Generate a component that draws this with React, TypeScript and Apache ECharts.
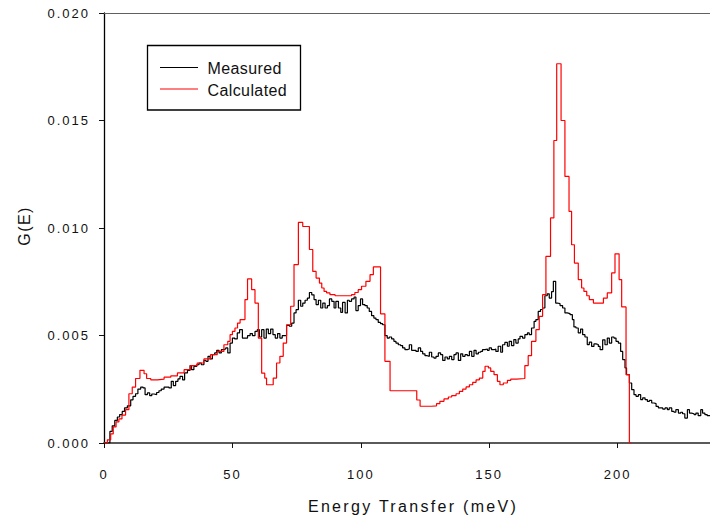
import React, { useEffect, useRef } from "react";
import * as echarts from "echarts";

// Energy transfer (meV) bin starts and G(E) values
const measured: [number, number][] = [
  [0, 0], [2.3, 0.00054], [3.2, 0.0008], [4.2, 0.00105], [5.2, 0.00121], [6.1, 0.00132],
  [7.1, 0.00147], [8.0, 0.00163], [9.1, 0.00173], [10.4, 0.00201], [11.3, 0.00217],
  [12.3, 0.00229], [13.2, 0.00251], [14.3, 0.0026], [15.2, 0.00256], [16.0, 0.00225],
  [16.9, 0.00233], [17.8, 0.0022], [18.6, 0.00228], [19.5, 0.00225], [20.5, 0.00235],
  [21.4, 0.00243], [22.3, 0.00251], [23.4, 0.0026], [24.3, 0.0026], [25.3, 0.00256],
  [26.2, 0.00287], [27.0, 0.00267], [27.9, 0.00287], [28.8, 0.00298], [29.6, 0.0031],
  [30.6, 0.00294], [31.4, 0.00326], [32.5, 0.00338], [33.5, 0.0036], [34.1, 0.00341],
  [35.0, 0.00356], [36.1, 0.00364], [37.0, 0.00372], [37.9, 0.00364], [38.9, 0.00384],
  [39.7, 0.0038], [40.5, 0.00403], [41.3, 0.00391], [42.2, 0.00411], [43.1, 0.00419],
  [43.9, 0.00431], [44.8, 0.00419], [45.7, 0.00434], [46.5, 0.00437], [47.4, 0.00442],
  [48.2, 0.00419], [49.1, 0.00465], [50.0, 0.00488], [50.9, 0.00484], [51.9, 0.00512],
  [52.8, 0.00527], [53.9, 0.00488], [54.9, 0.00488], [55.9, 0.00499], [56.9, 0.00509],
  [57.8, 0.00499], [58.8, 0.00519], [59.7, 0.00527], [60.5, 0.00493], [61.4, 0.00527],
  [62.3, 0.00488], [63.2, 0.0053], [64.0, 0.00509], [64.9, 0.0053], [65.8, 0.00504],
  [66.7, 0.00488], [67.6, 0.00509], [68.5, 0.00488], [69.4, 0.00499], [71.1, 0.00547],
  [72.2, 0.00543], [73.1, 0.00558], [74.0, 0.00605], [74.8, 0.0062], [75.7, 0.00664],
  [76.6, 0.00636], [77.4, 0.00651], [78.3, 0.00664], [79.2, 0.00674], [80.0, 0.007],
  [80.9, 0.00689], [81.8, 0.00667], [82.6, 0.00644], [83.5, 0.00664], [84.4, 0.00628],
  [85.2, 0.00651], [86.1, 0.00628], [87.0, 0.00639], [87.8, 0.0067], [88.7, 0.00659],
  [89.6, 0.00628], [90.3, 0.00659], [91.3, 0.00628], [92.2, 0.00608], [92.9, 0.00654],
  [93.9, 0.00605], [94.8, 0.00664], [95.5, 0.00659], [96.4, 0.0067], [97.4, 0.00679],
  [98.1, 0.00616], [99.0, 0.00639], [99.9, 0.0067], [100.7, 0.00644], [101.6, 0.00639],
  [102.5, 0.00628], [103.3, 0.00612], [104.2, 0.00592], [105.1, 0.00581], [105.9, 0.00574],
  [106.8, 0.00561], [107.7, 0.00555], [108.5, 0.0055], [109.4, 0.00499], [110.3, 0.00488],
  [111.1, 0.00493], [112.0, 0.00484], [112.9, 0.00473], [113.7, 0.00465], [114.6, 0.00457],
  [115.5, 0.00453], [116.3, 0.00442], [117.2, 0.00434], [118.1, 0.00437], [118.9, 0.00457],
  [119.8, 0.00431], [120.7, 0.00431], [121.5, 0.00426], [122.4, 0.00442], [123.3, 0.00426],
  [124.1, 0.00415], [125.0, 0.00406], [125.9, 0.00403], [126.7, 0.00422], [127.6, 0.004],
  [128.5, 0.00395], [129.3, 0.00403], [130.2, 0.00419], [131.1, 0.00411], [131.9, 0.00384],
  [132.8, 0.004], [133.7, 0.00391], [134.5, 0.00403], [135.4, 0.00388], [136.3, 0.00411],
  [137.1, 0.00419], [138.0, 0.00384], [138.9, 0.00415], [139.7, 0.00403], [140.6, 0.00411],
  [141.5, 0.00406], [142.3, 0.00426], [143.2, 0.00403], [144.1, 0.00431], [144.9, 0.00415],
  [145.8, 0.00422], [146.7, 0.00426], [147.4, 0.00434], [148.4, 0.00437], [149.3, 0.00431],
  [150.0, 0.00442], [150.9, 0.00434], [151.9, 0.00437], [152.6, 0.00426], [153.5, 0.0045],
  [154.5, 0.00422], [155.2, 0.00457], [156.1, 0.00468], [157.1, 0.0045], [157.8, 0.00473],
  [158.7, 0.00453], [159.6, 0.00481], [160.4, 0.00465], [161.3, 0.00484], [162.0, 0.00496],
  [163.0, 0.00488], [163.9, 0.00504], [164.9, 0.00512], [165.6, 0.00504], [166.5, 0.00535],
  [167.5, 0.00566], [168.2, 0.00574], [169.1, 0.00612], [170.0, 0.00621], [170.8, 0.00628],
  [171.7, 0.00685], [172.6, 0.00694], [173.4, 0.00674], [174.3, 0.00704], [175.0, 0.00752],
  [175.9, 0.00651], [176.5, 0.00648], [177.6, 0.00639], [178.6, 0.00628], [179.5, 0.00605],
  [180.4, 0.00602], [181.5, 0.00597], [182.4, 0.00574], [183.0, 0.0054], [183.8, 0.00535],
  [184.7, 0.00512], [185.6, 0.0053], [186.4, 0.00504], [187.3, 0.00493], [188.2, 0.00458],
  [189.0, 0.00469], [189.9, 0.00449], [190.8, 0.00461], [191.6, 0.00458], [192.5, 0.00449],
  [193.2, 0.00434], [194.2, 0.0048], [195.1, 0.00457], [196.0, 0.00488], [196.8, 0.00465],
  [197.7, 0.00493], [198.6, 0.00488], [199.4, 0.00473], [200.3, 0.00465], [201.2, 0.00426],
  [202.0, 0.00388], [202.9, 0.00349], [203.5, 0.00318], [204.6, 0.00279], [205.5, 0.00248],
  [206.4, 0.00225], [207.2, 0.00217], [208.1, 0.00225], [209.0, 0.00202], [209.8, 0.0021],
  [210.7, 0.00202], [211.6, 0.00194], [212.4, 0.00198], [213.3, 0.00186], [214.2, 0.00183],
  [215.0, 0.0017], [215.9, 0.00163], [216.8, 0.00163], [217.6, 0.00158], [218.5, 0.00163],
  [219.4, 0.00155], [220.1, 0.00163], [221.1, 0.00147], [222.0, 0.00143], [222.7, 0.00155],
  [223.7, 0.00139], [224.6, 0.00143], [225.3, 0.00136], [226.2, 0.00116], [227.2, 0.00155],
  [228.0, 0.00139], [228.8, 0.00136], [229.8, 0.00132], [230.5, 0.00139], [231.4, 0.00127],
  [232.4, 0.00155], [233.1, 0.00139], [234.0, 0.00132], [234.9, 0.00127], [236, 0.00127],
];

const calculated: [number, number][] = [
  [0, 0], [1.3, 0.00015], [2.6, 0.00042], [3.6, 0.00075], [4.7, 0.00098], [5.8, 0.00112],
  [7.0, 0.0013], [8.4, 0.00155], [9.7, 0.00229], [11.0, 0.0026], [12.3, 0.003],
  [14.0, 0.00338], [15.6, 0.00322], [16.6, 0.003], [18.2, 0.00294], [20.8, 0.00297],
  [23.4, 0.00306], [26.0, 0.00312], [28.6, 0.00326], [31.2, 0.00341], [33.7, 0.0036],
  [36.3, 0.00372], [38.9, 0.00391], [41.5, 0.00411], [44.1, 0.00426], [46.7, 0.00457],
  [48.2, 0.00473], [49.1, 0.00504], [50.0, 0.00519], [51.0, 0.00535], [52.0, 0.00558],
  [53.0, 0.00574], [54.9, 0.00667], [55.9, 0.00763], [57.5, 0.00713], [58.8, 0.00651],
  [60.1, 0.00488], [61.4, 0.00325], [62.6, 0.00302], [63.3, 0.00271], [65.9, 0.00302],
  [67.2, 0.00372], [68.5, 0.00403], [69.8, 0.00465], [71.1, 0.0055], [72.7, 0.00636],
  [74.0, 0.0083], [75.7, 0.01026], [77.4, 0.01007], [80.0, 0.009], [81.3, 0.00798],
  [82.6, 0.00767], [83.9, 0.00744], [84.8, 0.00721], [85.7, 0.00705], [86.7, 0.00698],
  [88.0, 0.0069], [90.0, 0.00685], [96.4, 0.0069], [97.7, 0.007], [99.0, 0.00713],
  [100.3, 0.00729], [102.0, 0.00752], [103.6, 0.00783], [104.9, 0.00819], [107.7, 0.00601],
  [109.4, 0.0038], [111.4, 0.00243], [121.8, 0.002], [123.1, 0.00171], [127.6, 0.00173],
  [129.5, 0.00183], [130.8, 0.00194], [132.4, 0.00205], [134.1, 0.00214], [135.4, 0.0022],
  [137.1, 0.00229], [138.4, 0.0024], [139.7, 0.00251], [141.0, 0.00261], [142.3, 0.00271],
  [143.6, 0.00282], [144.9, 0.00294], [146.2, 0.00302], [147.5, 0.00333], [148.4, 0.00357],
  [149.7, 0.00349], [150.6, 0.00333], [151.9, 0.00318], [153.2, 0.00287], [154.2, 0.00271],
  [155.5, 0.00279], [157.1, 0.00291], [158.4, 0.00297], [160.7, 0.003], [163.9, 0.0036],
  [165.2, 0.00406], [166.5, 0.00473], [168.2, 0.00527], [169.5, 0.00589], [170.8, 0.0069],
  [172.1, 0.00868], [173.9, 0.01047], [175.2, 0.01407], [176.3, 0.01764], [178.0, 0.015],
  [179.5, 0.0124], [181.1, 0.01077], [182.1, 0.00922], [183.2, 0.00837], [184.7, 0.0076],
  [186.0, 0.00721], [186.9, 0.00705], [188.0, 0.00685], [189.0, 0.00667], [190.6, 0.00651],
  [194.5, 0.00674], [196.0, 0.00698], [197.7, 0.00791], [199.0, 0.0088], [200.6, 0.0076],
  [201.6, 0.00633], [203.3, 0.00318], [204.6, 0], [205.5, 0],
];

const seriesNames = ["Measured", "Calculated"];
const seriesColors = ["#000000", "#ff0000"];
const xTitle = "Energy Transfer (meV)";
const yTitle = "G(E)";

const css = `
text[style*="lsTick"] { letter-spacing: 2px; }
text[style*="lsXTitle"] { letter-spacing: 2.3px; }
text[style*="lsYTitle"] { letter-spacing: 1.4px; }
text[style*="lsLegend"] { letter-spacing: 0.4px; }
`;

export default function App() {
  const ref = useRef<HTMLDivElement>(null);
  useEffect(() => {
    if (!ref.current) return;
    const chart = echarts.init(ref.current, null, { renderer: "svg" });
    const tickFont = "'Liberation Sans', Arial, lsTick";
    chart.setOption({
      animation: false,
      backgroundColor: "#ffffff",
      grid: { left: 104, top: 13, right: 0, bottom: 74, containLabel: false },
      xAxis: [
        {
          type: "value",
          min: 0,
          max: 236,
          interval: 50,
          position: "bottom",
          axisLine: { show: true, onZero: false, lineStyle: { color: "#5a5a5a", width: 2 } },
          axisTick: { show: true, inside: false, length: 5, lineStyle: { color: "#111", width: 1 } },
          axisLabel: { margin: 25, color: "#111", fontSize: 13, fontFamily: tickFont, showMaxLabel: false },
          splitLine: { show: false },
        },
        {
          type: "value",
          min: 0,
          max: 236,
          position: "top",
          axisLine: { show: true, onZero: false, lineStyle: { color: "#606060", width: 1.2 } },
          axisTick: { show: false },
          axisLabel: { show: false },
          splitLine: { show: false },
        },
      ],
      yAxis: {
        type: "value",
        min: 0,
        max: 0.02,
        interval: 0.005,
        axisLine: { show: true, onZero: false, lineStyle: { color: "#000", width: 1.3 } },
        axisTick: { show: true, inside: false, length: 5, lineStyle: { color: "#111", width: 1 } },
        axisLabel: {
          margin: 14,
          color: "#111",
          fontSize: 13,
          fontFamily: tickFont,
          formatter: (v: number) => v.toFixed(3),
        },
        splitLine: { show: false },
      },
      series: [
        {
          name: seriesNames[0],
          type: "line",
          step: "end",
          data: measured,
          symbol: "none",
          lineStyle: { color: seriesColors[0], width: 1.2 },
          itemStyle: { color: seriesColors[0] },
          z: 2,
        },
        {
          name: seriesNames[1],
          type: "line",
          step: "end",
          data: calculated,
          symbol: "none",
          lineStyle: { color: seriesColors[1], width: 1.2 },
          itemStyle: { color: seriesColors[1] },
          z: 3,
        },
      ],
      graphic: [
        {
          type: "rect",
          shape: { x: 147.5, y: 45.5, width: 153, height: 64.5 },
          style: { fill: "rgba(0,0,0,0)", stroke: "#000", lineWidth: 1.3 },
          z: 10,
        },
        {
          type: "line",
          shape: { x1: 160, y1: 67.5, x2: 198, y2: 67.5 },
          style: { stroke: seriesColors[0], lineWidth: 1.2 },
          z: 10,
        },
        {
          type: "line",
          shape: { x1: 160, y1: 89, x2: 198, y2: 89 },
          style: { stroke: seriesColors[1], lineWidth: 1.2 },
          z: 10,
        },
        {
          type: "text",
          x: 207.5,
          y: 68,
          style: {
            text: seriesNames[0],
            fill: "#111",
            font: "16px 'Liberation Sans', Arial, lsLegend",
            align: "left",
            verticalAlign: "middle",
          },
          z: 10,
        },
        {
          type: "text",
          x: 207.5,
          y: 90,
          style: {
            text: seriesNames[1],
            fill: "#111",
            font: "16px 'Liberation Sans', Arial, lsLegend",
            align: "left",
            verticalAlign: "middle",
          },
          z: 10,
        },
        {
          type: "text",
          x: 413,
          y: 506,
          style: {
            text: xTitle,
            fill: "#111",
            font: "16px 'Liberation Sans', Arial, lsXTitle",
            align: "center",
            verticalAlign: "middle",
          },
          z: 10,
        },
        {
          type: "text",
          x: 24,
          y: 226,
          rotation: Math.PI / 2,
          style: {
            text: yTitle,
            fill: "#111",
            font: "16px 'Liberation Sans', Arial, lsYTitle",
            align: "center",
            verticalAlign: "middle",
          },
          z: 10,
        },
      ],
    });
    return () => chart.dispose();
  }, []);
  return (
    <>
      <style>{css}</style>
      <div
        ref={ref}
        style={{ position: "absolute", left: 0, top: 0, width: 710, height: 517 }}
      />
    </>
  );
}
